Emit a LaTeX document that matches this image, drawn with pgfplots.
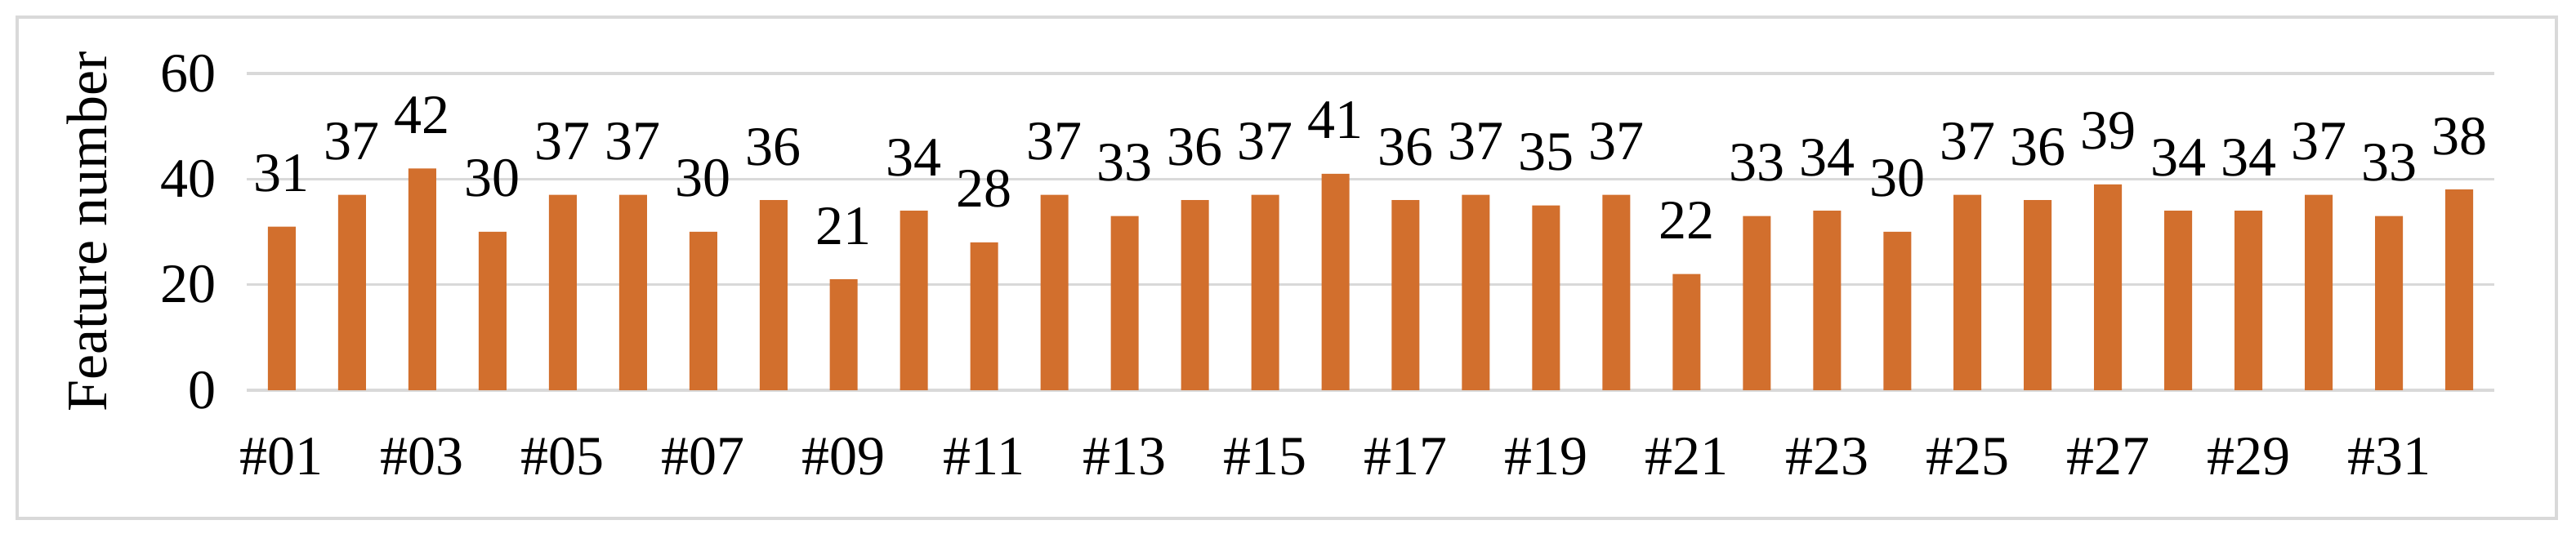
\documentclass[border=0pt]{standalone}
\usepackage{fontspec}
\setmainfont{Liberation Serif}
\usepackage{pgfplots}
\pgfplotsset{compat=1.18}
\definecolor{barc}{RGB}{210,111,45}
\definecolor{gridc}{RGB}{217,217,217}
\begin{document}
\begin{tikzpicture}
\fontsize{17pt}{20pt}\selectfont
\begin{axis}[
  name=ax,
  at={(0pt,0pt)}, anchor=south west,
  scale only axis,
  width=687.75pt, height=97pt,
  xmin=-0.5, xmax=31.5,
  ymin=0, ymax=60,
  ytick={0,20,40,60},
  xtick={0,2,...,30},
  xticklabels={\#01,\#03,\#05,\#07,\#09,\#11,\#13,\#15,\#17,\#19,\#21,\#23,\#25,\#27,\#29,\#31},
  major tick length=0pt,
  axis line style={draw=none},
  ymajorgrids,
  grid style={gridc, line width=0.85pt},
  /pgf/number format/assume math mode=true,
  tick label style={font=\fontsize{17pt}{20pt}\selectfont},
  yticklabel style={anchor=east, inner sep=0pt, xshift=-9.2pt},
  xticklabel style={anchor=base, inner sep=0pt, yshift=-26pt},
  ylabel={Feature number},
  ylabel style={at={(axis description cs:-0.0625,0.5)}, anchor=base, rotate=0, inner sep=0pt, font=\fontsize{17.5pt}{20pt}\selectfont},
  ybar, bar width=8.5pt,
  nodes near coords,
  every node near coord/.append style={anchor=base, inner sep=0pt, yshift=10.75pt, font=\fontsize{17pt}{20pt}\selectfont, text=black},
  clip=false,
]
\addplot[fill=barc, draw=none] coordinates {
(0,31) (1,37) (2,42) (3,30) (4,37) (5,37) (6,30) (7,36)
(8,21) (9,34) (10,28) (11,37) (12,33) (13,36) (14,37) (15,41)
(16,36) (17,37) (18,35) (19,37) (20,22) (21,33) (22,34) (23,30)
(24,37) (25,36) (26,39) (27,34) (28,34) (29,37) (30,33) (31,38)
};
\end{axis}
\pgfresetboundingbox
\path[use as bounding box] (-75.5pt,-45.25pt) rectangle (712.75pt,119.5pt);
\draw[gridc, line width=0.9pt] (-70.25pt,-39.25pt) rectangle (706.75pt,114.25pt);
\end{tikzpicture}
\end{document}
